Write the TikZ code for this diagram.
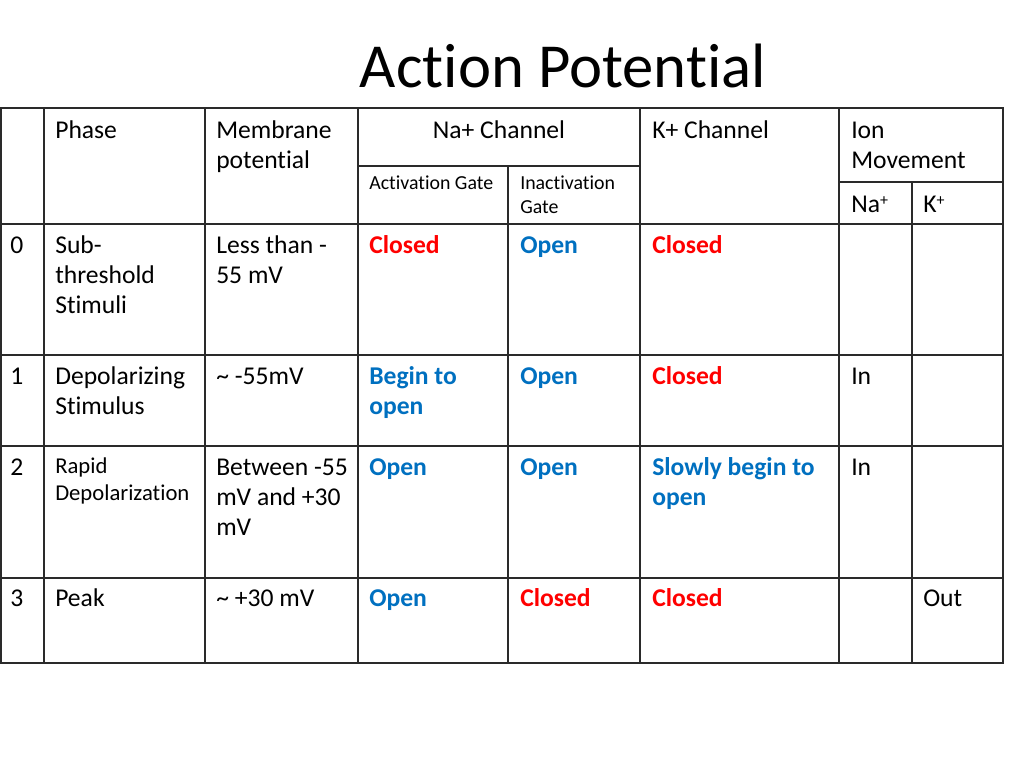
\documentclass[tikz,border=0pt]{standalone}
\usepackage{fontspec}
\setmainfont{Carlito}[Ligatures=NoCommon]
\definecolor{cred}{HTML}{FF0000}
\definecolor{cblue}{HTML}{0070C0}
\definecolor{grid}{HTML}{2A2A2A}
\newcommand\mlines[1]{\vtop{\halign{##\hfil\cr#1\crcr}}}
\newcommand\supplus{\raisebox{0.5ex}{\fontsize{12}{12}\selectfont+}}
\begin{document}
\begin{tikzpicture}[x=0.75pt,y=-0.75pt,
  gridline/.style={draw=grid,line width=1.5pt,line cap=rect},
  cell/.style={anchor=base west,inner sep=0pt,font=\fontsize{19.2}{22.5}\selectfont},
  small/.style={anchor=base west,inner sep=0pt,font=\fontsize{17}{20.8}\selectfont},
  tiny/.style={anchor=base west,inner sep=0pt,font=\fontsize{14.9}{18}\selectfont},
  redt/.style={cell,text=cred,font=\fontsize{19.2}{22.5}\selectfont\bfseries},
  bluet/.style={cell,text=cblue,font=\fontsize{19.2}{22.5}\selectfont\bfseries}]
\useasboundingbox (0,0) rectangle (1024,768);
\fill[white] (0,0) rectangle (1024,768);
% title
\node[anchor=base,inner sep=0pt,font=\fontsize{47}{56}\selectfont] (title) at (563,87) {Action Potential};
% grid
\foreach \x in {1,44,205,358,640,839,1003} \draw[gridline] (\x,108) -- (\x,663);
\draw[gridline] (508,166) -- (508,663);
\draw[gridline] (912,182) -- (912,663);
\foreach \y in {108,224,355,446,578,663} \draw[gridline] (1,\y) -- (1003,\y);
\draw[gridline] (358,166) -- (640,166);
\draw[gridline] (839,182) -- (1003,182);
% header
\node[cell] (hphase) at (55,138) {Phase};
\node[cell] (hmem) at (216,138) {\mlines{Membrane\cr potential}};
\node[cell,anchor=base] (hna) at (499,138) {Na+ Channel};
\node[cell] (hk) at (652,138) {K+ Channel};
\node[cell] (hion) at (851,138) {\mlines{Ion\cr Movement}};
\node[tiny] (hact) at (369,189.5) {Activation Gate};
\node[tiny] (hinact) at (520,189.5) {\mlines{Inactivation\cr Gate}};
\node[cell] (hnaion) at (851,212) {Na\supplus};
\node[cell] (hkion) at (923,212) {K\supplus};
% row 0
\node[cell] (n0) at (10,253) {0};
\node[cell] (p0) at (55,253) {\mlines{Sub-\cr threshold\cr Stimuli}};
\node[cell] (m0) at (216,253) {\mlines{Less than -\cr 55 mV}};
\node[redt] (a0) at (369,253) {Closed};
\node[bluet] (i0) at (520,253) {Open};
\node[redt] (k0) at (652,253) {Closed};
% row 1
\node[cell] (n1) at (10,384) {1};
\node[cell] (p1) at (55,384) {\mlines{Depolarizing\cr Stimulus}};
\node[cell] (m1) at (216,384) {\char`\~\ -55mV};
\node[bluet] (a1) at (369,384) {\mlines{Begin to\cr open}};
\node[bluet] (i1) at (520,384) {Open};
\node[redt] (k1) at (652,384) {Closed};
\node[cell] (na1) at (851,384) {In};
% row 2
\node[cell] (n2) at (10,475) {2};
\node[small] (p2) at (55,473) {\mlines{Rapid\cr Depolarization}};
\node[cell] (m2) at (216,475) {\mlines{Between -55\cr mV and +30\cr mV}};
\node[bluet] (a2) at (369,475) {Open};
\node[bluet] (i2) at (520,475) {Open};
\node[bluet] (k2) at (652,475) {\mlines{Slowly begin to\cr open}};
\node[cell] (na2) at (851,475) {In};
% row 3
\node[cell] (n3) at (10,606) {3};
\node[cell] (p3) at (55,606) {Peak};
\node[cell] (m3) at (216,606) {\char`\~\ +30 mV};
\node[bluet] (a3) at (369,606) {Open};
\node[redt] (i3) at (520,606) {Closed};
\node[redt] (k3) at (652,606) {Closed};
\node[cell] (ko3) at (923,606) {Out};
\end{tikzpicture}
\end{document}
